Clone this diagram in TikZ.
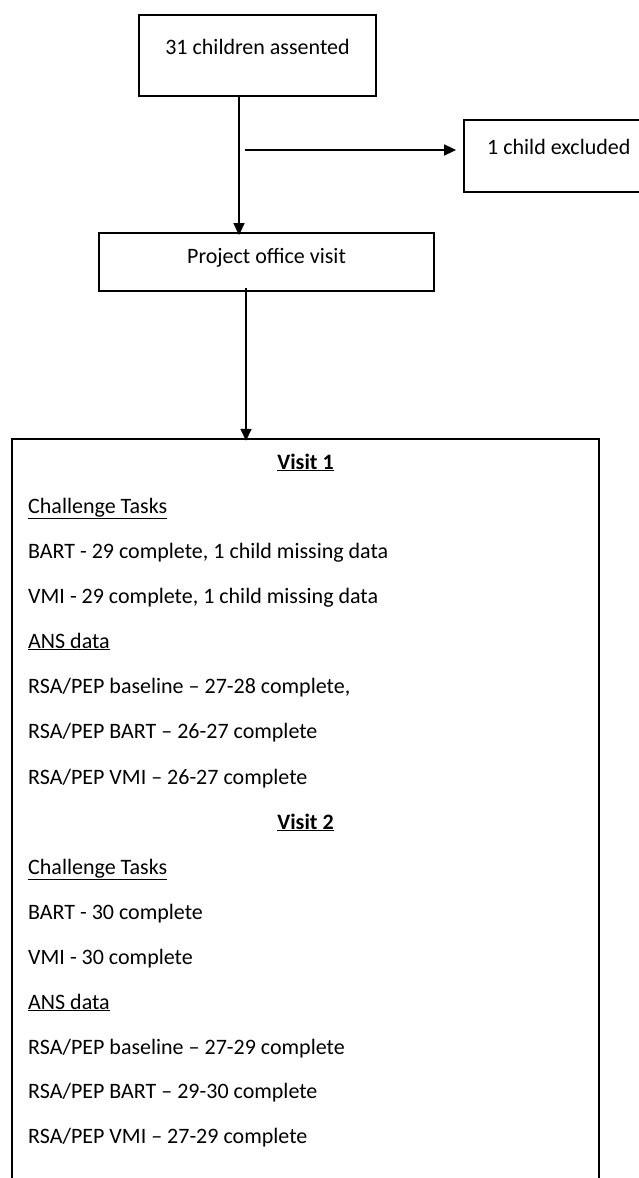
\documentclass[tikz,border=0pt]{standalone}
\usepackage{fontspec}
\setmainfont{Carlito}
\usetikzlibrary{arrows.meta,calc}
\begin{document}
\begin{tikzpicture}[x=1pt,y=-1pt,
  every node/.style={font=\fontsize{22}{26}\selectfont},
  box/.style={draw,line width=1.8pt,inner sep=0pt},
  flow/.style={line width=1.6pt,-{Triangle[length=12pt,width=11pt]}},
  item/.style={anchor=base west,inner sep=0pt},
  head/.style={anchor=base,inner sep=0pt,font=\fontsize{22}{26}\selectfont\bfseries}]
\useasboundingbox (0,0) rectangle (638,1178);

% top of the flow
\node[box,minimum width=237pt,minimum height=81pt] (assent) at (257.5,55.5) {};
\node[anchor=base,inner sep=0pt] (assentT) at (257.5,54) {31 children assented};

\node[box,minimum width=335pt,minimum height=58pt] (office) at (266.5,262) {};
\node[anchor=base,inner sep=0pt] (officeT) at (266.5,263) {Project office visit};

% exclusion box, running off the right edge of the page
\node[box,minimum width=190pt,minimum height=72pt] (excl) at (559,156) {};
\node[anchor=base west,inner sep=0pt] (exclT) at (487,154) {1 child excluded};

% outcome box: open at the bottom
\coordinate (vtl) at (12,439);
\coordinate (vtr) at (599,439);
\node[inner sep=0pt,minimum width=587pt,minimum height=2pt] (visits) at (305.5,439) {};
\draw[line width=1.8pt] (12,1182) -- (vtl) -- (vtr) -- (599,1182);

% connectors
\coordinate (d1) at (239,0);
\coordinate (d2) at (246,0);
\coordinate (h1) at (245,150);
\draw[flow] (assent.south -| d1) -- ([yshift=-3pt]office.north -| d1);
\draw[flow] (h1) -- ([xshift=-7pt]excl.west |- h1);
\draw[flow] ([yshift=4pt]office.south -| d2) -- ([yshift=-3pt]visits.north -| d2);

% contents of the outcome box
\node[head] (v1) at (305.5,469) {\underline{Visit 1}};
\node[item] (a1) at (28,513) {\underline{Challenge Tasks}};
\node[item] (a2) at (28,558) {BART - 29 complete, 1 child missing data};
\node[item] (a3) at (28,603) {VMI - 29 complete, 1 child missing data};
\node[item] (a4) at (28,648) {\underline{ANS data}};
\node[item] (a5) at (28,693) {RSA/PEP baseline – 27-28 complete,};
\node[item] (a6) at (28,738) {RSA/PEP BART – 26-27 complete};
\node[item] (a7) at (28,784) {RSA/PEP VMI – 26-27 complete};
\node[head] (v2) at (305.5,829) {\underline{Visit 2}};
\node[item] (b1) at (28,874) {\underline{Challenge Tasks}};
\node[item] (b2) at (28,919) {BART - 30 complete};
\node[item] (b3) at (28,964) {VMI - 30 complete};
\node[item] (b4) at (28,1009) {\underline{ANS data}};
\node[item] (b5) at (28,1054) {RSA/PEP baseline – 27-29 complete};
\node[item] (b6) at (28,1098) {RSA/PEP BART – 29-30 complete};
\node[item] (b7) at (28,1143) {RSA/PEP VMI – 27-29 complete};
\end{tikzpicture}
\end{document}
